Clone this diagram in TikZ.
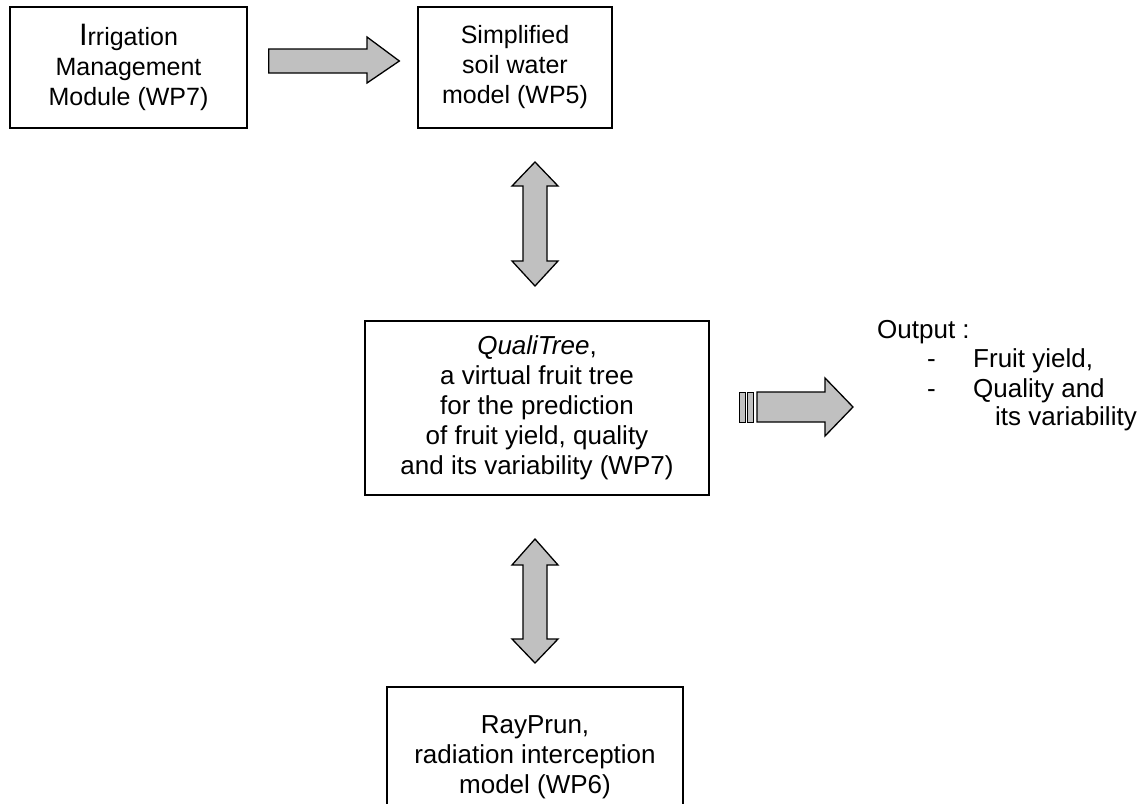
\documentclass[tikz,border=0pt]{standalone}
\usepackage{fontspec}
\setmainfont{Liberation Sans}
\usetikzlibrary{calc}
\definecolor{arrowgray}{HTML}{C0C0C0}
\newcommand{\bodyfont}{\fontsize{26}{30}\selectfont}
\newcommand{\smallbodyfont}{\fontsize{25}{30}\selectfont}
\begin{document}
\begin{tikzpicture}[x=1pt,y=-1pt,
  box/.style={draw, line width=1.3pt, inner sep=0pt, align=center, font=\bodyfont},
  topbox/.style={box, font=\smallbodyfont},
  blk/.style={draw, line width=1.3pt, fill=arrowgray, line join=miter},
  txt/.style={inner sep=0pt, anchor=base west, font=\bodyfont}]
\clip (0,0) rectangle (1145,803);
\useasboundingbox (0,0) rectangle (1145,803);

% boxes
\node[topbox, minimum width=237pt, minimum height=121pt] (irr) at (128.5,67.5)
  {{\fontsize{31}{30}\selectfont I}rrigation\\Management\\Module (WP7)};
\node[topbox, minimum width=194pt, minimum height=121pt] (soil) at (515,67.5)
  {Simplified\\soil water\\model (WP5)};
\node[box, minimum width=344pt, minimum height=174pt] (quali) at (537,408)
  {\textit{QualiTree},\\a virtual fruit tree\\for the prediction\\of fruit yield, quality\\and its variability (WP7)};
\node[box, minimum width=296pt, minimum height=140pt] (ray) at (535,757)
  {RayPrun,\\radiation interception\\model (WP6)};

% horizontal block arrow irr -> soil
\coordinate (h1s) at ($(irr.east)+(21,-6.5)$);
\coordinate (h1t) at ($(soil.west)+(-18,-6.5)$);
\draw[blk] (h1s) ++(0,-12) -| (367,37) -- (h1t) -- (367,83) |- ($(h1s)+(0,12)$) -- cycle;

% vertical double arrow soil <-> quali
\draw[blk] (535,162) -- (558,186) -- (547,186) -- (547,261) -- (558,261) -- (535,286)
  -- (512,261) -- (523,261) -- (523,186) -- (512,186) -- cycle;

% vertical double arrow quali <-> ray
\draw[blk] (535,539) -- (558,565) -- (547,565) -- (547,639) -- (558,639) -- (535,663)
  -- (512,639) -- (523,639) -- (523,565) -- (512,565) -- cycle;

% output arrow with stripes
\draw[blk, line width=1pt] (739,392) rectangle (745,422);
\draw[blk, line width=1pt] (747,392) rectangle (753,422);
\draw[blk] (757,392) -- (825,392) -- (825,378) -- (853,407) -- (825,436) -- (825,422) -- (757,422) -- cycle;

% output text
\node[txt] (out) at (877,338) {Output :};
\node[txt] (d1) at (927,367) {-};
\node[txt] (o1) at (973,367) {Fruit yield,};
\node[txt] (d2) at (927,397) {-};
\node[txt] (o2) at (973,397) {Quality and};
\node[txt] (o3) at (995,425) {its variability};
\end{tikzpicture}
\end{document}
